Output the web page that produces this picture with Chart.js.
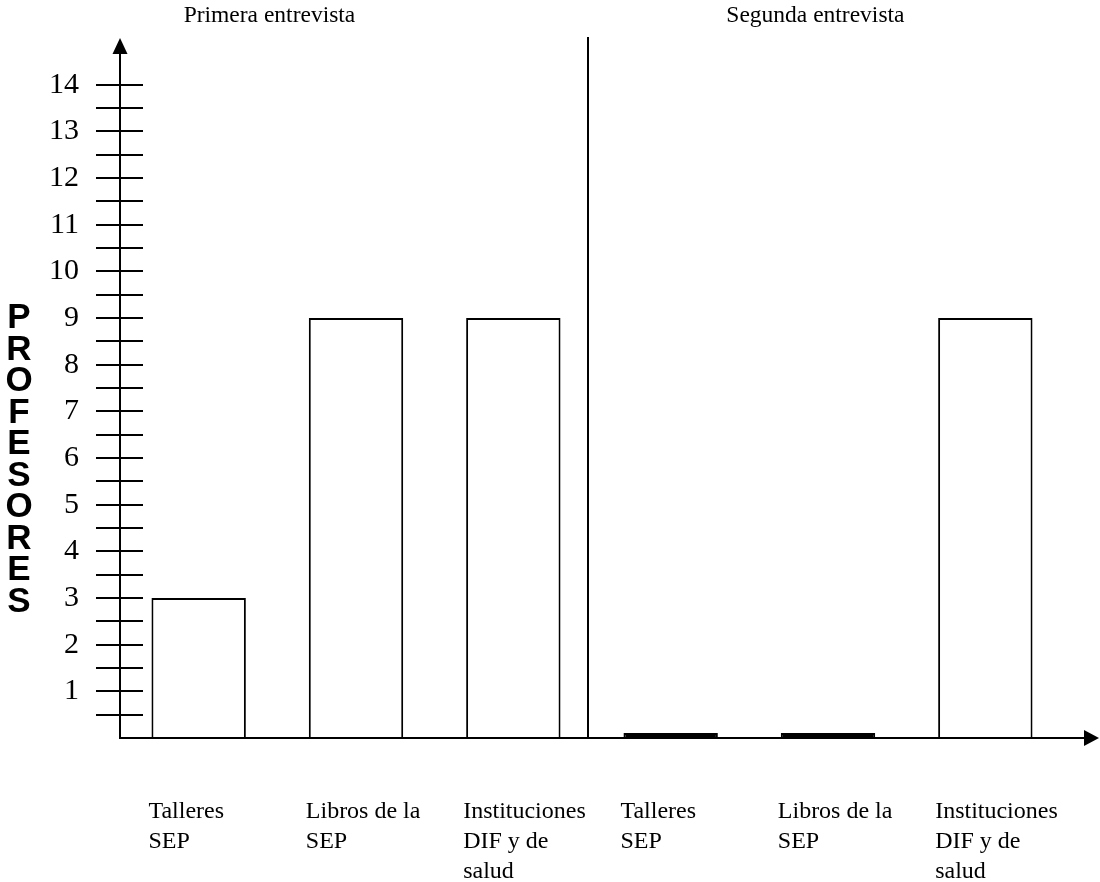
<!DOCTYPE html>
<html><head><meta charset="utf-8">
<script src="https://cdn.jsdelivr.net/npm/chart.js@4/dist/chart.umd.min.js"></script>
<style>html,body{margin:0;padding:0;background:#fff}canvas{display:block}</style>
</head><body>
<canvas id="c" width="1100" height="882"></canvas>
<script>
const categories = [
  ['Talleres', 'SEP'],
  ['Libros de la', 'SEP'],
  ['Instituciones', 'DIF y de', 'salud'],
  ['Talleres', 'SEP'],
  ['Libros de la', 'SEP'],
  ['Instituciones', 'DIF y de', 'salud']
];
const profesores = [3, 9, 9, 0, 0, 9];
const groupTitles = ['Primera entrevista', 'Segunda entrevista'];
const yTickLabels = ['1','2','3','4','5','6','7','8','9','10','11','12','13','14'];
const axisTitle = 'PROFESORES';
const yMax = 15;

const serif = '"Liberation Serif", "Times New Roman", serif';

const deco = {
  id: 'deco',
  afterDraw(chart) {
    const ctx = chart.ctx, a = chart.chartArea, x = chart.scales.x, y = chart.scales.y;
    const line = (x1, y1, x2, y2) => { ctx.beginPath(); ctx.moveTo(x1, y1); ctx.lineTo(x2, y2); ctx.stroke(); };
    ctx.save();
    ctx.strokeStyle = '#000'; ctx.fillStyle = '#000'; ctx.lineWidth = 2;
    const x0 = a.left, y0 = y.getPixelForValue(0), yTop = y.getPixelForValue(yMax);
    // y axis + arrow
    line(x0, y0 + 1, x0, yTop + 10);
    ctx.beginPath(); ctx.moveTo(x0, yTop); ctx.lineTo(x0 - 7.5, yTop + 16); ctx.lineTo(x0 + 7.5, yTop + 16); ctx.closePath(); ctx.fill();
    // x axis + arrow
    const xEnd = chart.width - 1;
    line(x0, y0, xEnd - 10, y0);
    ctx.beginPath(); ctx.moveTo(xEnd, y0); ctx.lineTo(xEnd - 15, y0 - 8); ctx.lineTo(xEnd - 15, y0 + 8); ctx.closePath(); ctx.fill();
    // tick marks at every half unit
    y.ticks.forEach(t => {
      if (t.value > 0 && t.value <= Number(yTickLabels[yTickLabels.length - 1])) {
        const p = Math.round(y.getPixelForValue(t.value));
        line(x0 - 24, p, x0 + 23, p);
      }
    });
    // divider between interviews
    const xd = (x.getPixelForValue(2) + x.getPixelForValue(3)) / 2 - 4;
    line(xd, yTop - 1, xd, y0);
    // category labels
    ctx.font = '24px ' + serif; ctx.textAlign = 'left'; ctx.textBaseline = 'alphabetic';
    chart.getDatasetMeta(0).data.forEach((bar, i) => {
      const left = bar.x - bar.width / 2 - 3;
      categories[i].forEach((l, j) => ctx.fillText(l, left, y0 + 80 + j * 30));
    });
    // group titles
    ctx.font = '23.5px ' + serif; ctx.textAlign = 'center';
    ctx.fillText(groupTitles[0], x.getPixelForValue(0.45), 22);
    ctx.fillText(groupTitles[1], x.getPixelForValue(3.92), 22);
    // vertical stacked axis title
    ctx.font = 'bold 35px "Liberation Sans", Arial, sans-serif'; ctx.textAlign = 'center';
    const n = axisTitle.length, step = 31.5, yc = y.getPixelForValue(6);
    for (let k = 0; k < n; k++) {
      ctx.fillText(axisTitle[k], 19, yc - (n - 1) * step / 2 + k * step + 12);
    }
    ctx.restore();
  }
};

new Chart(document.getElementById('c'), {
  type: 'bar',
  data: {
    labels: categories.map(c => c.join(' ')),
    datasets: [{
      data: profesores,
      backgroundColor: c => c.raw === 0 ? '#000' : '#fff',
      borderColor: '#000',
      borderWidth: 2,
      borderSkipped: 'bottom',
      minBarLength: 5,
      barPercentage: 0.6,
      categoryPercentage: 1
    }]
  },
  options: {
    responsive: false,
    animation: false,
    layout: { padding: { top: 38, bottom: 144, left: 0, right: 36 } },
    plugins: { legend: { display: false }, tooltip: { enabled: false }, title: { display: false } },
    scales: {
      x: { display: false },
      y: {
        min: 0, max: yMax,
        grid: { display: false },
        border: { display: false },
        afterFit: s => { s.width = 120; s.paddingTop = 0; s.paddingBottom = 0; },
        ticks: {
          stepSize: 0.5, autoSkip: false, padding: 33, color: '#000',
          font: { family: serif, size: 30 },
          callback: v => yTickLabels.includes(String(v)) ? String(v) : ''
        }
      }
    }
  },
  plugins: [deco]
});
</script>
</body></html>
